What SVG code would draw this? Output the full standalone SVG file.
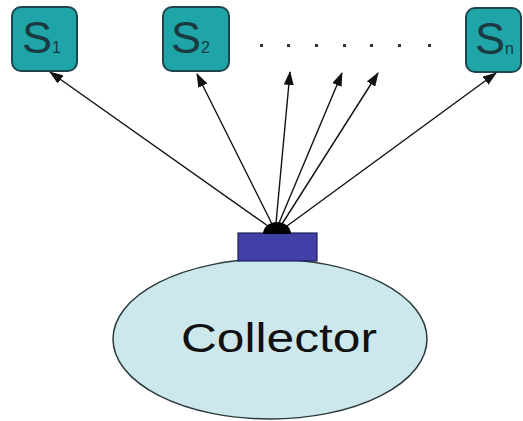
<svg xmlns="http://www.w3.org/2000/svg" width="523" height="421" viewBox="0 0 523 421">
  <style>
    .sbox { fill: #1fa4a7; stroke: #1d4650; stroke-width: 2; }
    .slabel { font-family: "Liberation Sans", Arial, sans-serif; fill: #1a3a42; }
    .big { font-size: 45px; }
    .sub { font-size: 16px; }
    .link { stroke: #111; stroke-width: 1.4; fill: none; marker-end: url(#head); }
    .dot { fill: #333; }
  </style>
  <defs>
    <marker id="head" viewBox="0 0 14 10" refX="13" refY="5" markerWidth="14" markerHeight="10" markerUnits="userSpaceOnUse" orient="auto">
      <path d="M0,0 L14,5 L0,10 Z" fill="#111"/>
    </marker>
  </defs>

  <rect width="523" height="421" fill="#fff"/>

  <!-- sensor nodes -->
  <g id="s1">
    <rect class="sbox" x="12" y="7" width="65" height="64" rx="9"/>
    <text class="slabel" x="22" y="53"><tspan class="big">S</tspan><tspan class="sub">1</tspan></text>
  </g>
  <g id="s2">
    <rect class="sbox" x="163" y="7" width="66" height="64" rx="9"/>
    <text class="slabel" x="171" y="53"><tspan class="big">S</tspan><tspan class="sub">2</tspan></text>
  </g>
  <g id="sn">
    <rect class="sbox" x="466" y="8" width="55" height="64" rx="9"/>
    <text class="slabel" x="475" y="54"><tspan class="big">S</tspan><tspan class="sub">n</tspan></text>
  </g>

  <!-- ellipsis between S2 and Sn -->
  <g id="dots">
    <rect class="dot" x="260" y="44" width="3" height="3"/>
    <rect class="dot" x="287" y="44" width="3" height="3"/>
    <rect class="dot" x="315" y="44" width="3" height="3"/>
    <rect class="dot" x="343" y="44" width="3" height="3"/>
    <rect class="dot" x="370" y="44" width="3" height="3"/>
    <rect class="dot" x="398" y="44" width="3" height="3"/>
    <rect class="dot" x="428" y="44" width="3" height="3"/>
  </g>

  <!-- collector -->
  <g id="collector">
    <ellipse cx="270" cy="339" rx="157" ry="80" fill="#cce8ec" stroke="#2a3a3a" stroke-width="1.5"/>
    <rect x="238" y="233" width="79" height="28" fill="#4040a6" stroke="#20205a" stroke-width="1.2"/>
    <path d="M263,234 A14,12 0 0 1 291,234 Z" fill="#000"/>
    <text x="181" y="352" font-family="'Liberation Sans', Arial, sans-serif" font-size="40" fill="#111" textLength="196" lengthAdjust="spacingAndGlyphs">Collector</text>
  </g>

  <!-- broadcast links -->
  <g id="links">
    <line class="link" x1="268" y1="226" x2="50" y2="72"/>
    <line class="link" x1="272" y1="224" x2="197" y2="74"/>
    <line class="link" x1="276" y1="223" x2="290" y2="72"/>
    <line class="link" x1="279" y1="223" x2="342" y2="73"/>
    <line class="link" x1="282" y1="224" x2="378" y2="73"/>
    <line class="link" x1="287" y1="226" x2="496" y2="73"/>
  </g>
</svg>
